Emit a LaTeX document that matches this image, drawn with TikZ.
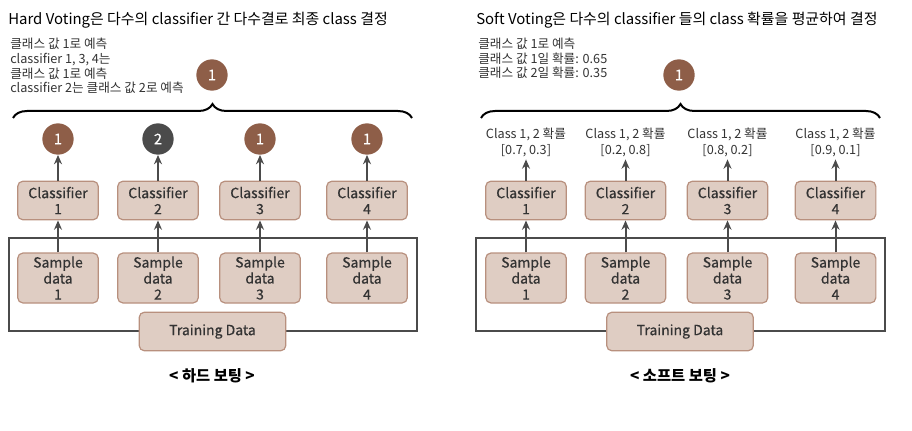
\documentclass[tikz,border=0pt]{standalone}
\usepackage{fontspec}
\setmainfont{Noto Sans CJK KR}
\newfontfamily\medfont{Noto Sans CJK KR}[FakeBold=0.5]
\usetikzlibrary{decorations.pathreplacing,arrows.meta}
\definecolor{boxfill}{HTML}{DFCDC3}
\definecolor{boxline}{HTML}{B8907E}
\definecolor{vbrown}{HTML}{8E5E48}
\definecolor{vdark}{HTML}{4B4B4B}
\definecolor{txt}{HTML}{333333}
\begin{document}
\begin{tikzpicture}[x=0.75pt,y=-0.75pt,
  every node/.style={text=txt},
  box/.style={draw=boxline, fill=boxfill, rounded corners=4pt, line width=0.9pt,
    minimum width=60.5pt, minimum height=29pt, align=center, inner sep=0pt,
    font=\medfont\fontsize{10.5}{12}\selectfont},
  sbox/.style={box, minimum height=37.5pt},
  tbox/.style={box, minimum width=110pt},
  vote/.style={circle, fill=vbrown, minimum size=23.5pt, inner sep=0pt, text=white,
    font=\medfont\fontsize{11}{12}\selectfont},
  votedark/.style={vote, fill=vdark},
  arr/.style={draw=vdark, line width=1.5pt, -{Stealth[length=7pt,width=6pt]}},
  frame/.style={draw=vdark, line width=1.1pt},
  brc/.style={draw=black, line width=1.5pt, decorate, decoration={brace, amplitude=10.5pt}},
  title/.style={anchor=west, inner sep=0pt, text=black, font=\fontsize{11.2}{14}\selectfont},
  note/.style={anchor=west, inner sep=0pt, align=left, font=\fontsize{9.5}{11}\selectfont},
  prob/.style={align=center, inner sep=0pt, font=\fontsize{9.5}{12}\selectfont},
  caption/.style={text=black, font=\fontsize{11.5}{13}\selectfont\bfseries}
]
\useasboundingbox (0,0) rectangle (912,431);

% ---------------- Hard voting ----------------
\node[title] (htitle) at (8,20) {Hard Voting은 다수의 classifier 간 다수결로 최종 class 결정};
\node[note] (hnote) at (10,66) {클래스 값 1로 예측\\classifier 1, 3, 4는\\클래스 값 1로 예측\\classifier 2는 클래스 값 2로 예측};
\node[vote] (hfinal) at (212,75) {1};
\coordinate (hbl) at (13,118);
\coordinate (hbr) at (412,118);
\draw[brc] (hbl) -- (hbr);

\draw[frame] (9,238) rectangle (417,331);

\foreach \i/\x/\v in {1/58/1,2/158/2,3/260/1,4/367/1}{
  \node[box] (hc\i) at (\x,200.5) {Classifier\\\i};
  \node[sbox] (hs\i) at (\x,278) {Sample\\data\\\i};
}
\node[vote] (hv1) at (58,139) {1};
\node[votedark] (hv2) at (158,139) {2};
\node[vote] (hv3) at (260,139) {1};
\node[vote] (hv4) at (367,139) {1};
\foreach \i in {1,2,3,4}{
  \draw[arr] (hc\i) -- (hv\i);
  \draw[arr] (hs\i) -- (hc\i);
}
\node[tbox] (htrain) at (212.5,331.5) {Training Data};
\node[caption] (hcap) at (212,376) {< 하드 보팅 >};

% ---------------- Soft voting ----------------
\node[title] (stitle) at (476,20) {Soft Voting은 다수의 classifier 들의 class 확률을 평균하여 결정};
\node[note] (snote) at (478,58.5) {클래스 값 1로 예측\\클래스 값 1일 확률: 0.65\\클래스 값 2일 확률: 0.35};
\node[vote] (sfinal) at (679,75) {1};
\coordinate (sbl) at (481,118);
\coordinate (sbr) at (880,118);
\draw[brc] (sbl) -- (sbr);

\draw[frame] (476,238) rectangle (885,331);

\foreach \i/\x/\p in {1/526/{[0.7, 0.3]},2/625.5/{[0.2, 0.8]},3/727.5/{[0.8, 0.2]},4/835.5/{[0.9, 0.1]}}{
  \node[box] (sc\i) at (\x,200.5) {Classifier\\\i};
  \node[sbox] (ss\i) at (\x,278) {Sample\\data\\\i};
  \node[prob] (sp\i) at (\x,142) {Class 1, 2 확률\\\p};
  \draw[arr] (sc\i) -- ([yshift=-2pt]sp\i.south);
  \draw[arr] (ss\i) -- (sc\i);
}
\node[tbox] (strain) at (680,331.5) {Training Data};
\node[caption] (scap) at (680,376) {< 소프트 보팅 >};
\end{tikzpicture}
\end{document}
